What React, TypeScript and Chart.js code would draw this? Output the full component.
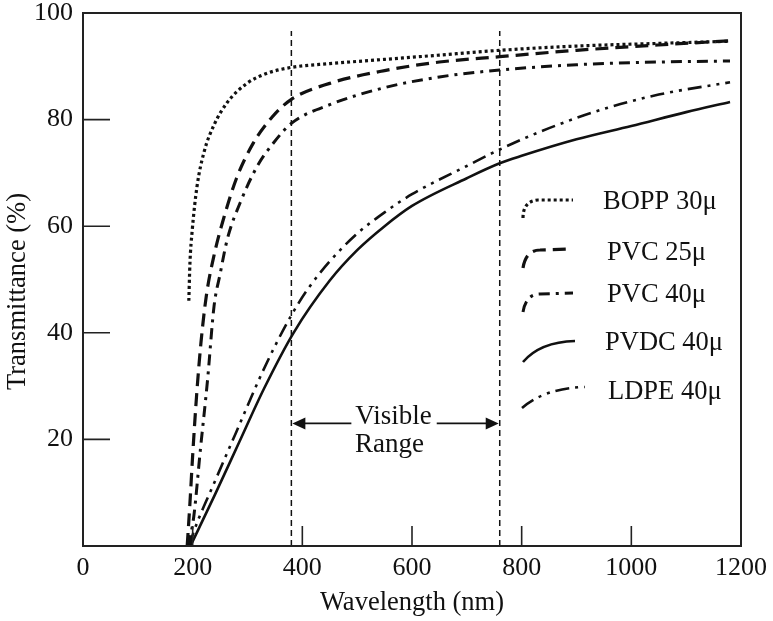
import React, { useEffect, useRef } from "react";
import { Chart, registerables } from "chart.js";

Chart.register(...registerables);

// ---- Data ----
const boppX = [193, 195, 199, 208, 221, 239, 263, 299, 336, 380, 450, 550, 650, 760, 900, 1050, 1180];
const boppY = [46, 53, 59, 67.5, 74, 79, 83.2, 86.8, 88.7, 89.8, 90.5, 91.3, 92.1, 93, 93.8, 94.3, 94.7];

const pvc25X = [190, 195, 200, 207, 215, 225, 240, 258, 280, 310, 345, 380, 450, 550, 650, 760, 900, 1050, 1180];
const pvc25Y = [0, 8, 17, 28, 38, 47, 55, 62, 69, 75.5, 80.5, 83.8, 86.8, 89.2, 90.8, 91.8, 93, 94, 94.8];

const pvc40X = [192, 202, 214, 227, 239, 250, 263, 287, 318, 348, 380, 450, 550, 650, 760, 900, 1050, 1180];
const pvc40Y = [0, 5.5, 18, 31, 45, 51, 57.5, 64.5, 71.3, 75.7, 79.3, 82.8, 86, 88, 89.3, 90.3, 90.8, 91];

const pvdcX = [196, 240, 285, 330, 384, 450, 500, 550, 600, 700, 760, 800, 900, 1000, 1100, 1180];
const pvdcY = [0, 9.5, 19.5, 29.5, 40, 49.8, 55.5, 60, 63.8, 69, 71.8, 73.2, 76.3, 78.8, 81.4, 83.3];

const ldpeX = [194, 201, 240, 280, 320, 350, 380, 410, 450, 500, 550, 600, 700, 760, 850, 950, 1050, 1180];
const ldpeY = [0, 2.4, 12, 21.5, 31, 37.5, 43.3, 48.2, 53.4, 58.6, 62.6, 66, 71.3, 74.4, 78.4, 82, 84.7, 87];

const seriesNames = ["BOPP 30μ", "PVC 25μ", "PVC 40μ", "PVDC 40μ", "LDPE 40μ"];
const xTickValues = [0, 200, 400, 600, 800, 1000, 1200];
const yTickValues = [0, 20, 40, 60, 80, 100];
const visibleRange = [380, 760];
const visibleTop = 96.6;
const arrowLevel = 23;
const rangeLabel = ["Visible", "Range"];
const xTitle = "Wavelength (nm)";
const yTitle = "Transmittance (%)";

const FONT = "'Liberation Serif', 'Times New Roman', serif";
const INK = "#111";

const seriesStyles = [
  { dash: [3, 3], width: 3.2 },
  { dash: [13, 7], width: 3.2 },
  { dash: [11, 6, 3, 6], width: 3 },
  { dash: [], width: 2.6 },
  { dash: [14, 6, 3, 6, 3, 6], width: 2.6 },
];

function pts(xs: number[], ys: number[]) {
  return xs.map((x, i) => ({ x, y: ys[i] }));
}

const framePlugin = {
  id: "frameAndTicks",
  afterDraw(chart: any) {
    const { ctx, chartArea } = chart;
    const xs = chart.scales.x;
    const ys = chart.scales.y;
    ctx.save();
    ctx.strokeStyle = "#222";
    ctx.lineWidth = 2;
    ctx.setLineDash([]);
    ctx.strokeRect(chartArea.left, chartArea.top, chartArea.right - chartArea.left, chartArea.bottom - chartArea.top);
    // inward ticks
    ctx.lineWidth = 1.6;
    ctx.beginPath();
    xTickValues.forEach((v) => {
      if (v === 0 || v === 1200) return;
      const px = xs.getPixelForValue(v);
      ctx.moveTo(px, chartArea.bottom);
      ctx.lineTo(px, chartArea.bottom - 20);
    });
    yTickValues.forEach((v) => {
      if (v === 0 || v === 100) return;
      const py = ys.getPixelForValue(v);
      ctx.moveTo(chartArea.left, py);
      ctx.lineTo(chartArea.left + 27, py);
    });
    ctx.stroke();

    // y title
    ctx.save();
    ctx.font = `26.5px ${FONT}`;
    ctx.fillStyle = INK;
    ctx.translate(18, (chartArea.top + chartArea.bottom) / 2 + 12);
    ctx.rotate(-Math.PI / 2);
    ctx.textAlign = "center";
    ctx.textBaseline = "middle";
    ctx.fillText(yTitle, 0, 0);
    ctx.restore();

    // Visible range arrow
    const x1 = xs.getPixelForValue(visibleRange[0]);
    const x2 = xs.getPixelForValue(visibleRange[1]);
    const ay = ys.getPixelForValue(arrowLevel);
    const mid = (x1 + x2) / 2 - 2;
    ctx.font = `27px ${FONT}`;
    ctx.fillStyle = INK;
    const tw = ctx.measureText(rangeLabel[0]).width;
    ctx.lineWidth = 1.8;
    ctx.strokeStyle = INK;
    ctx.beginPath();
    ctx.moveTo(x1 + 10, ay);
    ctx.lineTo(mid - tw / 2 - 4, ay);
    ctx.moveTo(mid + tw / 2 + 5, ay);
    ctx.lineTo(x2 - 10, ay);
    ctx.stroke();
    ctx.beginPath();
    ctx.moveTo(x1 + 1, ay);
    ctx.lineTo(x1 + 14, ay - 6);
    ctx.lineTo(x1 + 14, ay + 6);
    ctx.closePath();
    ctx.moveTo(x2 - 1, ay);
    ctx.lineTo(x2 - 14, ay - 6);
    ctx.lineTo(x2 - 14, ay + 6);
    ctx.closePath();
    ctx.fill();
    ctx.textAlign = "center";
    ctx.textBaseline = "alphabetic";
    ctx.fillText(rangeLabel[0], mid, ay + 1);
    ctx.fillText(rangeLabel[1], mid - 4, ay + 29);

    // Legend
    const L = chartArea.left;
    const T = chartArea.top;
    ctx.font = `26.5px ${FONT}`;
    const samples = [
      { m: [440, 205], q: [440, 188], e: [455, 187], l: [490, 187], tx: 520, ty: 189 },
      { m: [440, 255], q: [443, 237], e: [457, 237], l: [487, 236], tx: 524, ty: 240 },
      { m: [440, 299], q: [443, 281], e: [457, 281], l: [490, 280], tx: 524, ty: 282 },
      { m: [440, 349], q: [457, 329], e: [492, 328], l: null, tx: 522, ty: 330 },
      { m: [439, 395], q: [462, 375], e: [502, 374], l: null, tx: 525, ty: 379 },
    ];
    samples.forEach((s, i) => {
      const st = seriesStyles[i];
      ctx.setLineDash(st.dash);
      ctx.lineWidth = st.width;
      ctx.strokeStyle = INK;
      ctx.beginPath();
      ctx.moveTo(L + s.m[0], T + s.m[1]);
      ctx.quadraticCurveTo(L + s.q[0], T + s.q[1], L + s.e[0], T + s.e[1]);
      if (s.l) ctx.lineTo(L + s.l[0], T + s.l[1]);
      ctx.stroke();
      ctx.setLineDash([]);
      ctx.textAlign = "left";
      ctx.textBaseline = "middle";
      ctx.fillText(seriesNames[i], L + s.tx, T + s.ty);
    });
    ctx.restore();
  },
};

export default function App() {
  const ref = useRef<HTMLCanvasElement | null>(null);
  useEffect(() => {
    if (!ref.current) return;
    const all = [
      pts(boppX, boppY),
      pts(pvc25X, pvc25Y),
      pts(pvc40X, pvc40Y),
      pts(pvdcX, pvdcY),
      pts(ldpeX, ldpeY),
    ];
    const datasets: any[] = all.map((d, i) => ({
      label: seriesNames[i],
      data: d,
      borderColor: INK,
      borderWidth: seriesStyles[i].width,
      borderDash: seriesStyles[i].dash,
      borderCapStyle: "butt",
      pointRadius: 0,
      fill: false,
      cubicInterpolationMode: "monotone",
    }));
    visibleRange.forEach((v) => {
      datasets.push({
        label: "",
        data: [
          { x: v, y: 0 },
          { x: v, y: visibleTop },
        ],
        borderColor: INK,
        borderWidth: 1.5,
        borderDash: [6, 4],
        pointRadius: 0,
        fill: false,
      });
    });
    const chart = new Chart(ref.current, {
      type: "line",
      data: { datasets },
      options: {
        animation: false,
        responsive: false,
        events: [],
        layout: { padding: { top: 13, right: 32, left: 0, bottom: 0 } },
        plugins: { legend: { display: false }, tooltip: { enabled: false } },
        scales: {
          x: {
            type: "linear",
            min: 0,
            max: 1200,
            afterFit: (s: any) => {
              s.height = 75;
              s.paddingLeft = 0;
              s.paddingRight = 0;
            },
            afterBuildTicks: (s: any) => {
              s.ticks = xTickValues.map((v) => ({ value: v }));
            },
            grid: { display: false, drawTicks: false },
            border: { display: false },
            ticks: {
              color: INK,
              padding: 7,
              maxRotation: 0,
              font: { family: FONT, size: 26 },
              callback: (v: any) => String(v),
            },
            title: {
              display: true,
              text: xTitle,
              color: INK,
              font: { family: FONT, size: 26.5 },
              padding: { top: 0, bottom: 2 },
            },
          },
          y: {
            type: "linear",
            min: 0,
            max: 100,
            afterFit: (s: any) => {
              s.width = 83;
              s.paddingTop = 0;
              s.paddingBottom = 0;
            },
            afterBuildTicks: (s: any) => {
              s.ticks = yTickValues.map((v) => ({ value: v }));
            },
            grid: { display: false, drawTicks: false },
            border: { display: false },
            ticks: {
              color: INK,
              padding: 10,
              font: { family: FONT, size: 26 },
              callback: (v: any) => (v === 0 ? "" : String(v)),
            },
            title: { display: false },
          },
        },
      },
      plugins: [framePlugin],
    });
    return () => chart.destroy();
  }, []);
  return (
    <div style={{ position: "fixed", left: 0, top: 0, width: 773, height: 621, background: "#fff" }}>
      <canvas ref={ref} width={773} height={621} style={{ display: "block" }} />
    </div>
  );
}
